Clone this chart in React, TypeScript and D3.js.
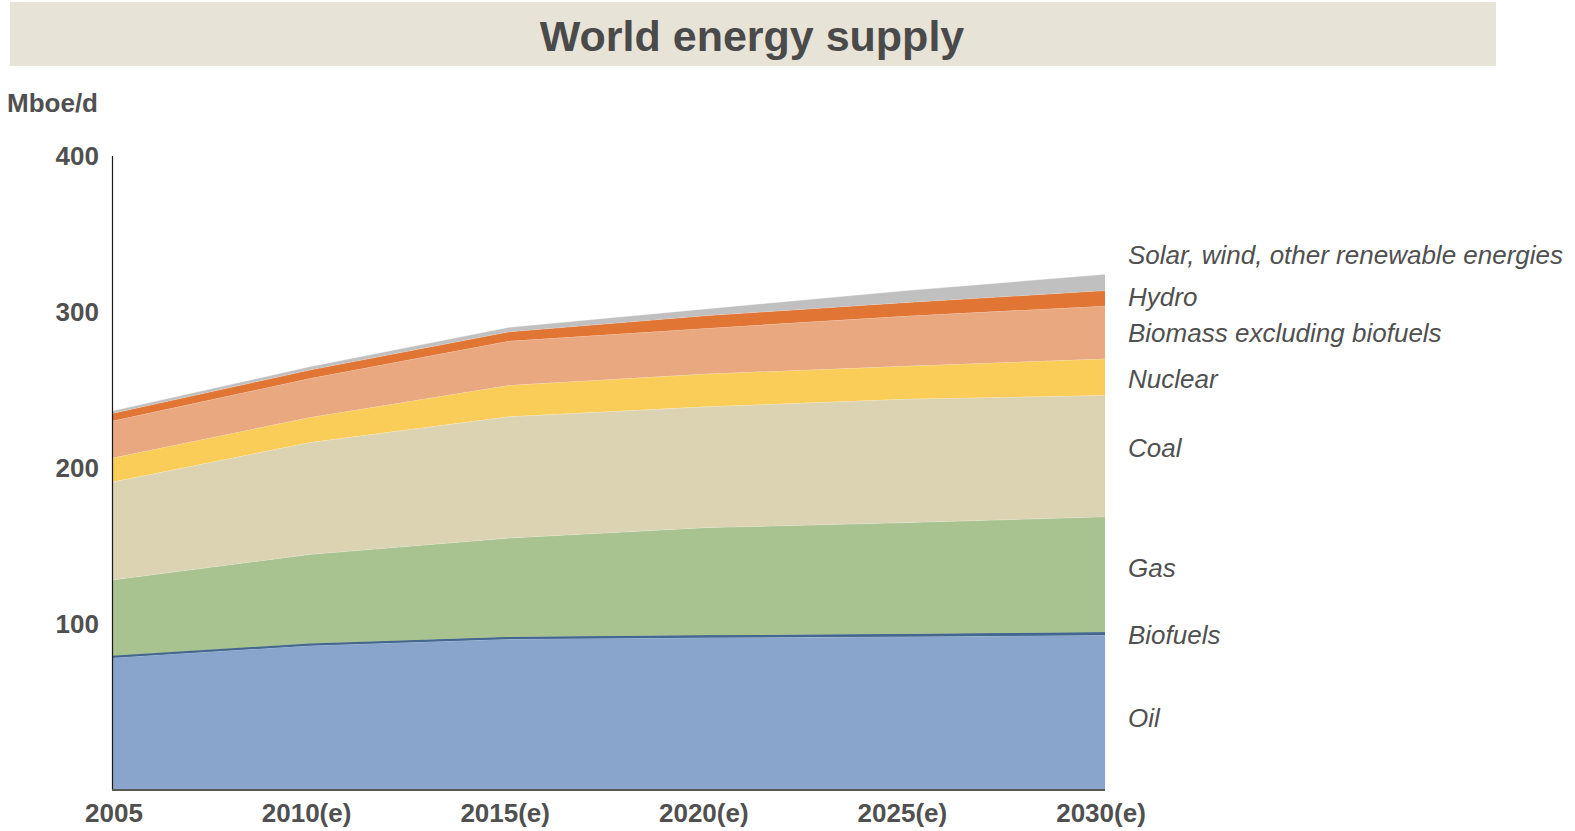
import React, { useRef, useEffect } from 'react'
import * as d3 from 'd3'

const YEARS = ['2005', '2010(e)', '2015(e)', '2020(e)', '2025(e)', '2030(e)']

const SOURCES = [
  'Oil',
  'Biofuels',
  'Gas',
  'Coal',
  'Nuclear',
  'Biomass excluding biofuels',
  'Hydro',
  'Solar, wind, other renewable energies',
]

// Mboe/d
const OIL = [83.5, 91.2, 95.3, 96.2, 96.8, 97.8]
const BIOFUELS = [0.7, 1.0, 1.2, 1.4, 1.7, 1.8]
const GAS = [48.3, 56.5, 62.5, 68, 70.2, 72.8]
const COAL = [61.8, 70.7, 76.6, 76.3, 78, 76.6]
const NUCLEAR = [15.2, 15.8, 19.8, 20.7, 20.8, 23.1]
const BIOMASS = [23.3, 24.6, 27.9, 28.8, 31.6, 33.3]
const HYDRO = [4.8, 5.3, 5.8, 8.0, 8.5, 9.7]
const SOLAR = [1.5, 2.1, 2.8, 4.3, 7.5, 10.3]

const Y_TICKS = [100, 200, 300, 400]

const COLORS = ['#8aa5cc', '#44678f', '#a8c290', '#dcd3b2', '#f9cd58', '#eaa881', '#e07534', '#c0c0c0']
// small vertical nudges (px) for the labels on the right
const LABEL_NUDGE = [5, 1, -7, -8, 2, 0, -2, -28]

const FONT = '"Liberation Sans", Arial, sans-serif'
const TEXT = '#505050'

function App() {
  const svgRef = useRef<SVGSVGElement>(null)

  useEffect(() => {
    const svg = d3.select(svgRef.current)
    svg.selectAll('*').remove()

    const seriesValues = [OIL, BIOFUELS, GAS, COAL, NUCLEAR, BIOMASS, HYDRO, SOLAR]
    const rows = YEARS.map((year, i) => {
      const row: any = { year }
      SOURCES.forEach((s, j) => (row[s] = seriesValues[j][i]))
      return row
    })

    const x = d3.scalePoint().domain(YEARS).range([112, 1105])
    const y = d3.scaleLinear().domain([0, 400]).range([790, 156])
    // Excel put the tick labels a few px above their gridline values
    const yLabel = d3.scaleLinear().domain([0, 400]).range([780, 156])

    // title band
    svg.append('rect')
      .attr('x', 10).attr('y', 2).attr('width', 1486).attr('height', 64)
      .attr('fill', '#e7e3d7')
    svg.append('text')
      .attr('x', 752).attr('y', 51)
      .attr('text-anchor', 'middle')
      .attr('font-family', FONT).attr('font-weight', 'bold').attr('font-size', 43)
      .attr('fill', '#4a4a4a')
      .text('World energy supply')

    svg.append('text')
      .attr('x', 7).attr('y', 112)
      .attr('font-family', FONT).attr('font-weight', 'bold').attr('font-size', 26)
      .attr('fill', TEXT)
      .text('Mboe/d')

    const stacked = d3.stack().keys(SOURCES)(rows)

    const area = d3.area<any>()
      .x((d) => x(d.data.year)!)
      .y0((d) => y(d[0]))
      .y1((d) => y(d[1]))

    const topLine = d3.line<any>()
      .x((d) => x(d.data.year)!)
      .y((d) => y(d[1]))

    stacked.forEach((layer, i) => {
      svg.append('path')
        .datum(layer)
        .attr('d', area)
        .attr('fill', COLORS[i])
      if (i !== 1) {
        svg.append('path')
          .datum(layer)
          .attr('d', topLine)
          .attr('fill', 'none')
          .attr('stroke', '#ffffff')
          .attr('stroke-opacity', 0.45)
          .attr('stroke-width', 0.8)
      }
    })

    // biofuels is a thin sliver, keep it at least 2px so it reads like the original
    svg.append('path')
      .datum(stacked[1])
      .attr('d', d3.area<any>()
        .x((d) => x(d.data.year)!)
        .y0((d) => y(d[0]))
        .y1((d) => Math.min(y(d[1]), y(d[0]) - 2)))
      .attr('fill', COLORS[1])

    // axes
    svg.append('line')
      .attr('x1', 112.5).attr('x2', 112.5).attr('y1', y(400)).attr('y2', y(0))
      .attr('stroke', '#1a1a1a').attr('stroke-width', 1.2)
    svg.append('line')
      .attr('x1', 112).attr('x2', x(YEARS[YEARS.length - 1])!).attr('y1', y(0)).attr('y2', y(0))
      .attr('stroke', '#595959').attr('stroke-width', 2)

    svg.append('g')
      .selectAll('text')
      .data(Y_TICKS)
      .join('text')
      .attr('x', 99)
      .attr('y', (d) => yLabel(d))
      .attr('dy', '0.36em')
      .attr('text-anchor', 'end')
      .attr('font-family', FONT).attr('font-weight', 'bold').attr('font-size', 26)
      .attr('fill', TEXT)
      .text((d) => d)

    svg.append('g')
      .selectAll('text')
      .data(YEARS)
      .join('text')
      .attr('x', (d, i) => x(d)! + (i === 0 ? 2 : -4))
      .attr('y', 822)
      .attr('text-anchor', 'middle')
      .attr('font-family', FONT).attr('font-weight', 'bold').attr('font-size', 26)
      .attr('fill', TEXT)
      .text((d) => d)

    // series labels to the right of the last point
    const last = YEARS.length - 1
    stacked.forEach((layer, i) => {
      const d = layer[last]
      svg.append('text')
        .attr('x', 1128)
        .attr('y', (y(d[0]) + y(d[1])) / 2 + LABEL_NUDGE[i])
        .attr('dy', '0.36em')
        .attr('font-family', FONT).attr('font-style', 'italic').attr('font-size', 26)
        .attr('fill', TEXT)
        .text(SOURCES[i])
    })
  }, [])

  return (
    <svg
      ref={svgRef}
      width={1575}
      height={831}
      style={{ position: 'absolute', left: 0, top: 0, display: 'block', background: '#fff' }}
    />
  )
}

export default App
